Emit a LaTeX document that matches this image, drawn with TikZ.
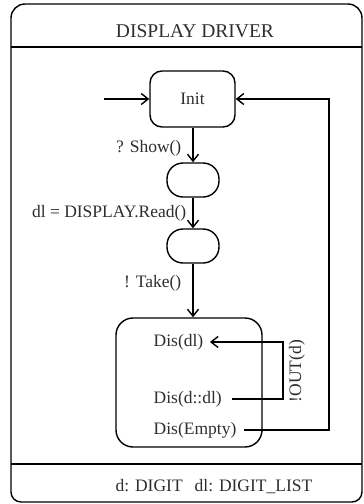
\documentclass[tikz,border=0pt]{standalone}
\usepackage{fontspec}
\setmainfont{Liberation Serif}
\usetikzlibrary{arrows.meta}
\definecolor{txt}{HTML}{2E2E2E}
\begin{document}
\begin{tikzpicture}[x=1pt,y=-1pt,
  line width=1.4pt,
  every node/.style={font=\fontsize{17.5}{20}\selectfont, text=txt},
  arr/.style={-{Straight Barb[length=7pt,width=11pt,line width=1.4pt]}},
  statebox/.style={draw, rounded corners=12pt, minimum width=85pt, minimum height=56pt, inner sep=0pt},
  pill/.style={draw, rounded corners=16pt, minimum width=52pt, minimum height=34pt, inner sep=0pt},
  bigbox/.style={draw, rounded corners=17pt, minimum width=146pt, minimum height=129pt, inner sep=0pt},
  lbl/.style={anchor=east, inner sep=0pt},
  item/.style={anchor=west, inner sep=0pt}]
\useasboundingbox (0,0) rectangle (364,504);

% frame of the process, with title and declaration bands
\draw[rounded corners=14pt] (11,47) -- (11,4) -- (362,4) -- (362,47);
\draw[rounded corners=10pt] (11,47) -- (11,502) -- (362,502) -- (362,47);
\draw (11,47) -- (362,47);
\draw (11,464) -- (362,464);
\node[font=\fontsize{19.5}{22}\selectfont] (title) at (195,31) {DISPLAY DRIVER};
\node (decl) at (214,487) {d: DIGIT\hspace{12pt}dl: DIGIT\_LIST};

% states
\node[statebox] (init) at (192.5,99) {Init};
\node[pill] (s1) at (193,180) {};
\node[pill] (s2) at (193,246) {};
\node[bigbox] (dis) at (189,382.5) {};

\node[item] (dl) at (153,342) {Dis(dl)};
\node[item] (dd) at (153,399) {Dis(d::dl)};
\node[item] (de) at (153,430) {Dis(Empty)};

% transitions
\coordinate (start) at (104,99);
\coordinate (loopx) at (283,0);
\coordinate (retx) at (329,0);

\draw[arr] (start) -- (init.west);
\draw[arr] (init.south -| s1.north) -- (s1.north);
\draw[arr] (s1.south) -- (s2.north);
\draw[arr] (s2.south) -- (s2.south |- dis.north);

\node[lbl] (show) at (182,148) {? Show()};
\node[lbl] (read) at (187,213) {dl = DISPLAY.Read()};
\node[lbl] (take) at (182,283) {! Take()};

\draw[arr] ([xshift=10pt]dd.east) -- (dd.east -| loopx) -- (dl.east -| loopx) -- ([xshift=6pt]dl.east);
\node[rotate=90, inner sep=0pt] (out) at (297,371) {!OUT(d)};

\draw[arr] ([xshift=7pt]de.east) -- (de.east -| retx) -- (init.east -| retx) -- (init.east);
\end{tikzpicture}
\end{document}
